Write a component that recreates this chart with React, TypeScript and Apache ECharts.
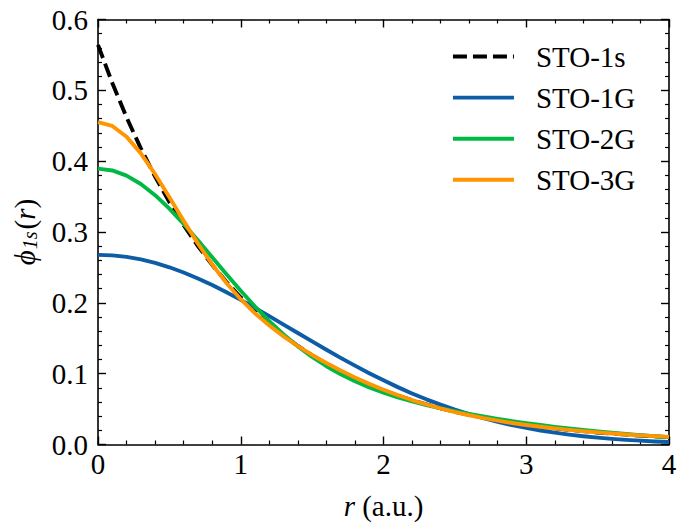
import React, { useEffect, useRef } from "react";
import * as echarts from "echarts";

// radial coordinate r (a.u.)
const rValues = [
  0.0, 0.1, 0.2, 0.3, 0.4, 0.5, 0.6, 0.7, 0.8, 0.9,
  1.0, 1.1, 1.2, 1.3, 1.4, 1.5, 1.6, 1.7, 1.8, 1.9,
  2.0, 2.1, 2.2, 2.3, 2.4, 2.5, 2.6, 2.7, 2.8, 2.9,
  3.0, 3.1, 3.2, 3.3, 3.4, 3.5, 3.6, 3.7, 3.8, 3.9, 4.0,
];

const sto1s = [
  0.5642, 0.5105, 0.4619, 0.418, 0.3782, 0.3422, 0.3096, 0.2802, 0.2535, 0.2294,
  0.2076, 0.1878, 0.1699, 0.1538, 0.1391, 0.1259, 0.1139, 0.1031, 0.0933, 0.0844,
  0.0764, 0.0691, 0.0625, 0.0566, 0.0512, 0.0463, 0.0419, 0.0379, 0.0343, 0.031,
  0.0281, 0.0254, 0.023, 0.0208, 0.0188, 0.017, 0.0154, 0.0139, 0.0126, 0.0114, 0.0103,
];

const sto1g = [
  0.2677, 0.267, 0.2648, 0.2613, 0.2563, 0.2502, 0.2428, 0.2344, 0.2251, 0.2149,
  0.2042, 0.1929, 0.1812, 0.1693, 0.1574, 0.1455, 0.1338, 0.1223, 0.1113, 0.1007,
  0.0906, 0.081, 0.0721, 0.0638, 0.0562, 0.0492, 0.0429, 0.0371, 0.032, 0.0274,
  0.0234, 0.0198, 0.0167, 0.014, 0.0117, 0.0097, 0.008, 0.0066, 0.0054, 0.0043, 0.0035,
];

const sto2g = [
  0.3894, 0.3869, 0.3796, 0.3678, 0.352, 0.3329, 0.3114, 0.2882, 0.2643, 0.2403,
  0.217, 0.1948, 0.1742, 0.1554, 0.1386, 0.1236, 0.1105, 0.0991, 0.0892, 0.0806,
  0.0731, 0.0666, 0.0609, 0.0557, 0.0511, 0.0469, 0.0431, 0.0395, 0.0362, 0.0331,
  0.0302, 0.0275, 0.0249, 0.0226, 0.0204, 0.0184, 0.0165, 0.0148, 0.0132, 0.0117, 0.0104,
];

const sto3g = [
  0.455, 0.4497, 0.4345, 0.411, 0.3816, 0.349, 0.3157, 0.2836, 0.2542, 0.228,
  0.2051, 0.1852, 0.1679, 0.1526, 0.1389, 0.1264, 0.115, 0.1044, 0.0946, 0.0856,
  0.0773, 0.0697, 0.0628, 0.0565, 0.0509, 0.0458, 0.0413, 0.0372, 0.0336, 0.0304,
  0.0275, 0.025, 0.0227, 0.0206, 0.0188, 0.0171, 0.0156, 0.0142, 0.0129, 0.0118, 0.0107,
];

const seriesNames = ["STO-1s", "STO-1G", "STO-2G", "STO-3G"];
const seriesColors = ["#000000", "#0C5DA5", "#00B945", "#FF9500"];

const FONT = "'Liberation Serif', 'DejaVu Serif', serif";
const FS = 29;
const LW = 3.9;

export default function App() {
  const ref = useRef<HTMLDivElement>(null);

  useEffect(() => {
    if (!ref.current) return;
    const chart = echarts.init(ref.current, undefined, { renderer: "svg" });
    const allData = [sto1s, sto1g, sto2g, sto3g];

    const tickCommon = {
      axisLine: { show: true, onZero: false, lineStyle: { color: "#000", width: 1.6 } },
      axisTick: { show: true, inside: true, length: 8, lineStyle: { color: "#000", width: 1.4 } },
      minorTick: { show: true, splitNumber: 5, length: 4, lineStyle: { color: "#000", width: 1.2 } },
      splitLine: { show: false },
      minorSplitLine: { show: false },
    };

    chart.setOption({
      animation: false,
      backgroundColor: "#ffffff",
      grid: { left: 98, right: 17, top: 19.5, bottom: 87.5, containLabel: false },
      legend: {
        orient: "vertical",
        left: 446,
        top: 37,
        itemWidth: 61,
        itemHeight: 20,
        itemGap: 12.1,
        data: seriesNames,
        itemStyle: { opacity: 0, color: "transparent", borderWidth: 0 },
        lineStyle: { width: LW },
        textStyle: { fontFamily: FONT, fontSize: FS, color: "#000", padding: [0, 0, 0, 17] },
      },
      xAxis: [
        {
          type: "value",
          min: 0,
          max: 4,
          interval: 1,
          position: "bottom",
          ...tickCommon,
          axisLabel: {
            show: true,
            fontFamily: FONT,
            fontSize: FS,
            color: "#000",
            margin: 5,
          },
          name: "{i|r} (a.u.)",
          nameLocation: "middle",
          nameGap: 47,
          nameTextStyle: {
            fontFamily: FONT,
            fontSize: FS,
            color: "#000",
            rich: { i: { fontFamily: FONT, fontSize: FS, fontStyle: "italic", color: "#000" } },
          },
        },
        {
          type: "value",
          min: 0,
          max: 4,
          interval: 1,
          position: "top",
          ...tickCommon,
          axisLabel: { show: false },
        },
      ],
      yAxis: [
        {
          type: "value",
          min: 0,
          max: 0.6,
          interval: 0.1,
          position: "left",
          ...tickCommon,
          axisLabel: {
            show: true,
            fontFamily: FONT,
            fontSize: FS,
            color: "#000",
            margin: 10,
            formatter: (v: number) => v.toFixed(1),
          },
          name: "{phi|ϕ}{sub|1s}{p|(}{i|r}{p|)}",
          nameLocation: "middle",
          nameRotate: 90,
          nameGap: 58,
          nameTextStyle: {
            fontFamily: FONT,
            fontSize: FS,
            color: "#000",
            rich: {
              phi: { fontFamily: FONT, fontSize: FS, fontStyle: "italic", color: "#000", lineHeight: 30, verticalAlign: "middle" },
              sub: { fontFamily: FONT, fontSize: 20, fontStyle: "italic", color: "#000", lineHeight: 20, verticalAlign: "bottom", padding: [0, 2, 0, 1] },
              p: { fontFamily: FONT, fontSize: FS, color: "#000", lineHeight: 30, verticalAlign: "middle" },
              i: { fontFamily: FONT, fontSize: FS, fontStyle: "italic", color: "#000", lineHeight: 30, verticalAlign: "middle" },
            },
          },
        },
        {
          type: "value",
          min: 0,
          max: 0.6,
          interval: 0.1,
          position: "right",
          ...tickCommon,
          axisLabel: { show: false },
        },
      ],
      series: allData.map((vals, k) => ({
        name: seriesNames[k],
        type: "line",
        xAxisIndex: 0,
        yAxisIndex: 0,
        data: rValues.map((r, j) => [r, vals[j]]),
        showSymbol: false,
        symbol: "none",
        smooth: false,
        z: 2 + k,
        lineStyle: {
          color: seriesColors[k],
          width: LW,
          type: k === 0 ? [14, 6] : "solid",
          cap: "butt",
          join: "round",
        },
        itemStyle: { color: seriesColors[k] },
      })),
    });

    return () => chart.dispose();
  }, []);

  return (
    <div
      ref={ref}
      style={{ position: "fixed", left: 0, top: 0, width: 686, height: 532, background: "#fff" }}
    />
  );
}
